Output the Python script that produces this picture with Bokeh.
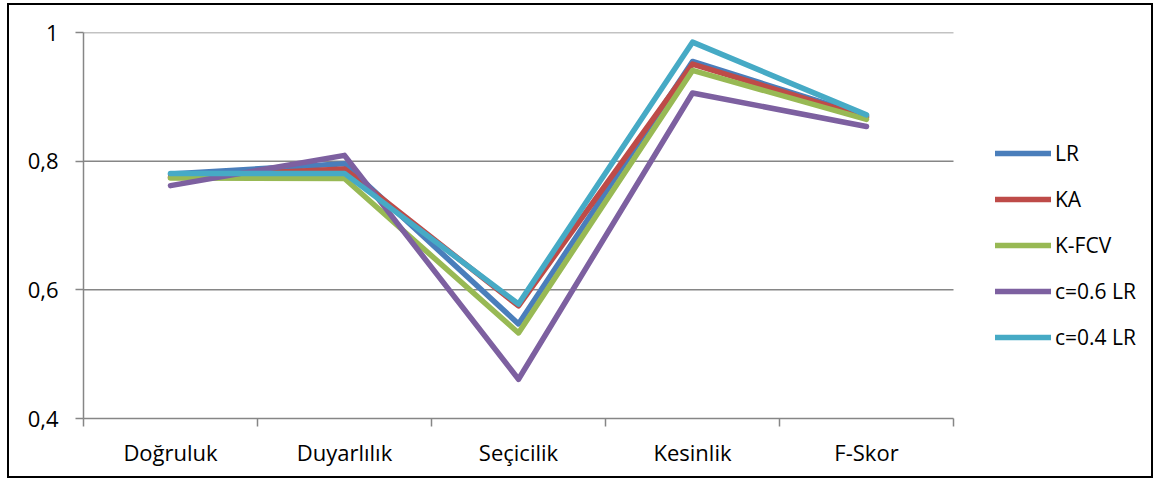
from bokeh.plotting import figure
from bokeh.models import Range1d, FixedTicker, Legend, LegendItem
from bokeh.embed import file_html
from bokeh.resources import INLINE

categories = ["Doğruluk", "Duyarlılık", "Seçicilik", "Kesinlik", "F-Skor"]
series_names = ["LR", "KA", "K-FCV", "c=0.6 LR", "c=0.4 LR"]
lr = [0.780, 0.796, 0.547, 0.955, 0.870]
ka = [0.775, 0.788, 0.575, 0.951, 0.868]
kfcv = [0.774, 0.773, 0.533, 0.941, 0.865]
c06 = [0.762, 0.809, 0.461, 0.906, 0.854]
c04 = [0.781, 0.781, 0.578, 0.985, 0.872]
y_ticks = [0.4, 0.6, 0.8, 1.0]
y_tick_labels = ["0,4", "0,6", "0,8", "1"]

colors = ["#4A7EBB", "#BE4B48", "#98B954", "#7D60A0", "#46AAC5"]
FONT = "Open Sans"
GRAY = "#868686"

n = len(categories)
xs = [i + 0.5 for i in range(n)]
# frame spans to the right border; categories occupy 870 px of 1072 px
x_end = n * 1072 / 870

p = figure(width=1146, height=475, output_backend="svg", toolbar_location=None,
           x_range=Range1d(0, x_end), y_range=Range1d(0.4, 1.0),
           min_border_left=74, min_border_right=0, min_border_top=27, min_border_bottom=62,
           margin=(3, 0, 0, 7))
p.styles = {"border": "2px solid black"}
p.outline_line_color = None
p.background_fill_color = "white"
p.border_fill_color = "white"

# horizontal gridlines limited to category span
grid_y = y_ticks[1:]
p.segment(x0=[0] * len(grid_y), x1=[n] * len(grid_y), y0=grid_y, y1=grid_y,
          line_color=GRAY, line_width=1.5)

# x axis
p.xaxis.bounds = (0, n)
p.xaxis.ticker = FixedTicker(ticks=xs, minor_ticks=list(range(n + 1)))
p.xaxis.major_label_overrides = {x: c for x, c in zip(xs, categories)}
p.xaxis.major_tick_in = 0
p.xaxis.major_tick_out = 0
p.xaxis.minor_tick_in = 0
p.xaxis.minor_tick_out = 8
p.xaxis.minor_tick_line_color = GRAY
p.xaxis.minor_tick_line_width = 1.5
p.xaxis.axis_line_color = GRAY
p.xaxis.axis_line_width = 1.5
p.xaxis.major_label_standoff = 10
p.xaxis.major_label_text_font = FONT
p.xaxis.major_label_text_font_size = "22px"
p.xaxis.major_label_text_color = "black"

# y axis
p.yaxis.ticker = FixedTicker(ticks=y_ticks, minor_ticks=[])
p.yaxis.major_label_overrides = {t: l for t, l in zip(y_ticks, y_tick_labels)}
p.yaxis.major_tick_in = 0
p.yaxis.major_tick_out = 8
p.yaxis.major_tick_line_color = GRAY
p.yaxis.major_tick_line_width = 1.5
p.yaxis.minor_tick_line_color = None
p.yaxis.axis_line_color = GRAY
p.yaxis.axis_line_width = 1.5
p.yaxis.major_label_standoff = 17
p.yaxis.major_label_text_font = FONT
p.yaxis.major_label_text_font_size = "22px"
p.yaxis.major_label_text_color = "black"

p.grid.grid_line_color = None

renderers = []
for vals, col in zip([lr, ka, kfcv, c06, c04], colors):
    r = p.line(xs, vals, line_color=col, line_width=5.5, line_join="round", line_cap="round")
    renderers.append(r)

legend = Legend(items=[LegendItem(label=s, renderers=[r]) for s, r in zip(series_names, renderers)],
                location=(912, 67), orientation="vertical",
                glyph_width=56, glyph_height=20, label_height=20, spacing=18,
                label_standoff=4, padding=0, margin=0,
                border_line_color=None, background_fill_alpha=0,
                label_text_font=FONT, label_text_font_size="21px", label_text_color="black")
p.add_layout(legend, "center")

open("out.html", "w").write(file_html(p, INLINE))
